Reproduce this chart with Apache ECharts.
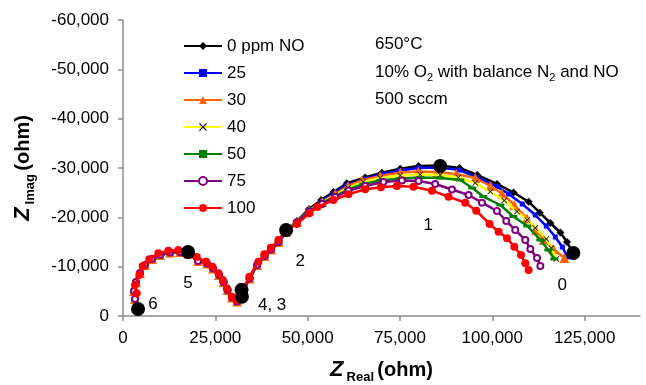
<!DOCTYPE html>
<html>
<head>
<meta charset="utf-8">
<script src="https://cdn.jsdelivr.net/npm/echarts@6/dist/echarts.min.js"></script>
<style>
  html, body { margin: 0; padding: 0; background: #ffffff; }
  #chart { width: 646px; height: 385px; }
</style>
</head>
<body>
<div id="chart"></div>
<script>
const seriesNames = ['0 ppm NO', '25', '30', '40', '50', '75', '100']
const xTicks = [0, 25000, 50000, 75000, 100000, 125000]

// high-frequency arc + valley, shared by 0..75 ppm (they sit on top of each other)
const sharedArc = [
  [3250, -3450], [2980, -5070], [3520, -6890], [4610, -8720], [5960, -10340],
  [7860, -11550], [10030, -12360], [12740, -12870], [15450, -12970], [17890, -12570],
  [20330, -11150], [22760, -10640], [24390, -9630], [26020, -8310], [27240, -6890],
  [28320, -5270], [29540, -3750], [30890, -2940], [32660, -5270], [34280, -7600],
  [36310, -10340], [38350, -12160], [40110, -13480], [42140, -15000], [44170, -17030],
]

const tail0 = [
  [47070, -19260], [50410, -21690], [53660, -23510], [56990, -25140], [60620, -26900],
  [65580, -28070], [70110, -29050], [75070, -29840], [80030, -30410], [85910, -30510],
  [91140, -30000], [95930, -28580], [101270, -26760], [105770, -25030], [109840, -23170],
  [112870, -20940], [115720, -18850], [118430, -16930], [120240, -15000], [121680, -12970],
]
const tail25 = [
  [47070, -19050], [50410, -21490], [53660, -23210], [56990, -24830], [60620, -26550],
  [65580, -27770], [70110, -28780], [75070, -29490], [80030, -30000], [85910, -30100],
  [91140, -29590], [95930, -28070], [101270, -26250], [104420, -24730], [108130, -22700],
  [111650, -20470], [114630, -18240], [117070, -16010], [118970, -13990], [120320, -11960],
]
const tail30 = [
  [47070, -19050], [50410, -21390], [53930, -23110], [57450, -24730], [60980, -26350],
  [64690, -27470], [69650, -28380], [75070, -29090], [79950, -29290], [85090, -29190],
  [90240, -28780], [95390, -27970], [99460, -26350], [102630, -24830], [105960, -22500],
  [109400, -19760], [111920, -17430], [113900, -15410], [116530, -13580], [119510, -11760],
]
const tail40 = [
  [47070, -19050], [50410, -21390], [53930, -23010], [57450, -24530], [60980, -25950],
  [65040, -27160], [69650, -27970], [75070, -28480], [80490, -28680], [85910, -28580],
  [90790, -28070], [95390, -26960], [99460, -25240], [103250, -23410], [106690, -21180],
  [109480, -19460], [111650, -17840], [114630, -15610], [115990, -13780], [117340, -11550],
]
const tail50 = [
  [47070, -19050], [50410, -21280], [53930, -22910], [57450, -24320], [60980, -25640],
  [65040, -26760], [69650, -27470], [75070, -27870], [80490, -28070], [85910, -27970],
  [91330, -27570], [94580, -25950], [97560, -24220], [102170, -22500], [105690, -20170],
  [109480, -18240], [113010, -15410], [115180, -13380], [116800, -11550],
]
const tail75 = [
  [47070, -18950], [50410, -21180], [53930, -22700], [57450, -24120], [61060, -25440],
  [65580, -26350], [70540, -27160], [75530, -27470], [80030, -27370], [84550, -26760],
  [89080, -25640], [93580, -24530], [97210, -22970], [101270, -21280], [103790, -19260],
  [106230, -17430], [108940, -15410], [110300, -13580], [112110, -11760], [113010, -10140],
]
const ppm100 = [
  [3710, -4600], [3250, -6280], [4420, -8310], [5340, -10140], [7130, -11490],
  [9570, -12710], [12280, -13240], [14990, -13380], [17610, -12970], [19970, -11960],
  [22490, -11010], [24200, -9990], [25830, -8660], [27020, -7300], [28100, -5610],
  [29460, -3910], [30810, -3240], [32600, -5610], [34230, -7970], [36670, -11010],
  [38290, -12500], [40030, -13840], [42090, -15400], [44170, -17430], [47070, -18650],
  [50490, -20820], [52660, -22090], [56990, -23510], [61060, -24670], [65580, -25680],
  [69840, -26090], [74170, -26350], [78670, -26210], [83660, -25400], [88160, -24180],
  [92680, -22970], [95660, -21340], [99270, -18650], [101710, -17090], [103990, -15750],
  [105960, -14050], [107780, -12360], [108940, -10680], [109840, -9320],
]

// big black frequency markers and their labels
const bigDots = [
  [4070, -1420], [17620, -12970], [32100, -5300], [32200, -3900],
  [44170, -17430], [85900, -30400], [121950, -12770],
]
const dotLabels = ['6', '5', '4, 3', '2', '1', '0']
const dotLabelPos = [
  [8130, -2430], [17620, -6690], [40380, -2230], [47970, -11150], [82650, -18450], [118970, -6280],
]

const xMark = 'path://M0,1L1,0L5,4L9,0L10,1L6,5L10,9L9,10L5,6L1,10L0,9L4,5Z'

const seriesMeta = [
  { line: '#000000', mark: '#000000', symbol: 'diamond', size: 8 },
  { line: '#0000ff', mark: '#0000ff', symbol: 'rect', size: 5 },
  { line: '#ff6600', mark: '#ff6600', symbol: 'triangle', size: 10 },
  { line: '#ffff00', mark: '#000000', symbol: xMark, size: 6 },
  { line: '#008000', mark: '#008000', symbol: 'rect', size: [8, 3] },
  { line: '#800080', mark: '#800080', symbol: 'emptyCircle', size: 6 },
  { line: '#ff0000', mark: '#ff0000', symbol: 'circle', size: 8 },
]

const seriesData = [
  sharedArc.concat(tail0),
  sharedArc.concat(tail25),
  sharedArc.concat(tail30),
  sharedArc.concat(tail40),
  sharedArc.concat(tail50),
  sharedArc.concat(tail75),
  ppm100,
]

const font = '"Liberation Sans", Arial, Helvetica, sans-serif'
const axisGray = '#8c8c8c'

function commas(v) {
  return Number(v).toLocaleString('en-US')
}

function axisTitle(sub) {
  return {
    name: '{z|Z}{s|' + sub + '} {b|(ohm)}',
    nameTextStyle: {
      fontFamily: font,
      rich: {
        z: { fontSize: 22, fontWeight: 'bold', fontStyle: 'italic', color: '#000', lineHeight: 28, fontFamily: font },
        s: { fontSize: 13, fontWeight: 'bold', color: '#000', verticalAlign: 'bottom', padding: [0, 0, 0, 3], fontFamily: font },
        b: { fontSize: 20, fontWeight: 'bold', color: '#000', lineHeight: 28, fontFamily: font },
      },
    },
  }
}

const lineSeries = seriesNames.map((name, i) => {
  const meta = seriesMeta[i]
  return {
    name,
    type: 'line',
    data: seriesData[i],
    symbol: meta.symbol,
    symbolSize: meta.size,
    showSymbol: true,
    lineStyle: { color: meta.line, width: 2.5 },
    itemStyle: {
      color: meta.mark,
      borderWidth: meta.symbol === 'emptyCircle' ? 1.5 : 0,
    },
    z: 2 + i,
  }
})

const chart = echarts.init(document.getElementById('chart'), null, { renderer: 'canvas' })

chart.setOption({
  animation: false,
  backgroundColor: '#ffffff',
  textStyle: { fontFamily: font },
  grid: { left: 123, right: 6, top: 20, bottom: 69, containLabel: false, outerBoundsMode: 'none' },
  legend: {
    data: seriesNames,
    orient: 'vertical',
    left: 178,
    top: 32,
    itemWidth: 38,
    itemHeight: 10,
    itemGap: 9,
    textStyle: { color: '#000', fontSize: 17, lineHeight: 18, fontFamily: font },
  },
  xAxis: {
    type: 'value',
    min: 0,
    max: 140000,
    interval: 25000,
    ...axisTitle('Real'),
    nameLocation: 'middle',
    nameGap: 40,
    axisLine: { lineStyle: { color: axisGray, width: 1.5 } },
    axisTick: { length: 5, lineStyle: { color: axisGray, width: 1.5 }, customValues: xTicks },
    axisLabel: { color: '#000', fontSize: 17, margin: 14, fontFamily: font, formatter: commas, customValues: xTicks },
    splitLine: { show: false },
  },
  yAxis: {
    type: 'value',
    min: -60000,
    max: 0,
    interval: 10000,
    inverse: true,
    ...axisTitle('Imag'),
    nameLocation: 'middle',
    nameGap: 86,
    axisLine: { show: true, lineStyle: { color: axisGray, width: 1.5 } },
    axisTick: { show: true, length: 5, lineStyle: { color: axisGray, width: 1.5 } },
    axisLabel: { color: '#000', fontSize: 17, margin: 14, fontFamily: font, formatter: commas },
    splitLine: { show: false },
  },
  graphic: [
    {
      type: 'group',
      left: 375,
      top: 36,
      children: [
        { type: 'text', left: 0, top: 0, style: { text: '650°C', fontSize: 17, fontFamily: font, fill: '#000' } },
        {
          type: 'text', left: 0, top: 25,
          style: {
            text: '10% O{s|2} with balance N{s|2} and NO',
            fontSize: 17, fontFamily: font, fill: '#000', lineHeight: 22,
            rich: { s: { fontSize: 11, fontFamily: font, fill: '#000', verticalAlign: 'bottom' } },
          },
        },
        { type: 'text', left: 0, top: 55, style: { text: '500 sccm', fontSize: 17, fontFamily: font, fill: '#000' } },
      ],
    },
  ],
  series: lineSeries.concat([
    {
      name: 'markers',
      type: 'scatter',
      data: bigDots,
      symbol: 'circle',
      symbolSize: 14,
      itemStyle: { color: '#000', opacity: 1 },
      z: 20,
    },
    {
      name: 'marker labels',
      type: 'scatter',
      data: dotLabelPos.map((p, i) => ({ value: p, name: dotLabels[i] })),
      symbolSize: 1,
      itemStyle: { color: 'rgba(0,0,0,0)', opacity: 1 },
      label: {
        show: true,
        position: 'inside',
        formatter: (p) => p.name,
        color: '#000',
        opacity: 1,
        fontSize: 17,
        fontFamily: font,
      },
      z: 21,
    },
  ]),
})
</script>
</body>
</html>
